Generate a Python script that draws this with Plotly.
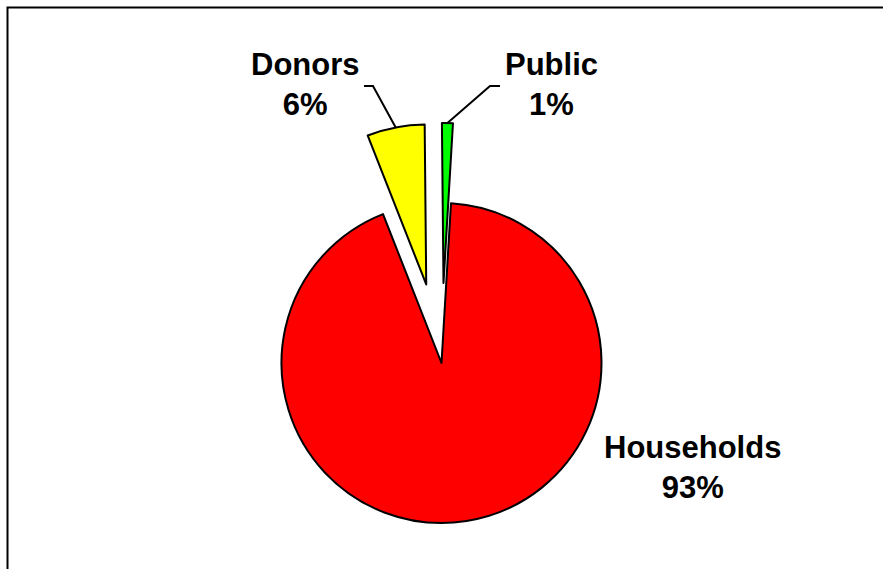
import math
import plotly.graph_objects as go

# ---- data ----
labels = ["Households", "Donors", "Public"]
values = [93.1, 5.8, 1.1]
colors = ["#FF0000", "#FFFF00", "#00FF00"]
pulls = [0.0, 0.5, 0.5]

# ---- layout constants ----
W, H = 883, 569
CX, CY, R = 441.5, 363.0, 160.0          # pie centre / radius in px
ROTATION = 3.4                             # start angle of first slice (deg, clockwise from 12 o'clock)
FONT = "Liberation Sans, Arial, sans-serif"
label_pos = {"Households": (692, 467), "Donors": (305, 84), "Public": (551, 84)}
leader_knees = {"Donors": [(364, 86), (373, 86)], "Public": [(500, 86), (490, 86)]}


def px(x):
    return x / W


def py(y):
    return 1 - y / H


total = sum(values)
mids = []
a = ROTATION
for v in values:
    span = v / total * 360
    mids.append(a + span / 2)
    a += span

fig = go.Figure()
for i, lab in enumerate(labels):
    th = math.radians(mids[i])
    dx = pulls[i] * R * math.sin(th)
    dy = -pulls[i] * R * math.cos(th)
    cx, cy = CX + dx, CY + dy
    cols = [c if j == i else "rgba(0,0,0,0)" for j, c in enumerate(colors)]
    lws = [2 if j == i else 0 for j in range(len(labels))]
    fig.add_trace(go.Pie(
        labels=labels, values=values, sort=False, direction="clockwise",
        rotation=ROTATION, textinfo="none", hoverinfo="skip",
        marker=dict(colors=cols, line=dict(color="black", width=lws)),
        domain=dict(x=[px(cx - R), px(cx + R)], y=[py(cy + R), py(cy - R)]),
        showlegend=False,
    ))

annotations = []
shapes = []
for i, lab in enumerate(labels):
    pct = f"{values[i] / total * 100:.0f}%"
    lx, ly = label_pos[lab]
    annotations.append(dict(
        x=px(lx), y=py(ly), xref="paper", yref="paper", showarrow=False,
        xanchor="center", yanchor="middle", align="center",
        text=f"<b>{lab}</b><br><b>{pct}</b>",
        font=dict(family=FONT, size=31, color="black"),
    ))
    if lab in leader_knees:
        th = math.radians(mids[i])
        ex = CX + (1 + pulls[i]) * R * math.sin(th)
        ey = CY - (1 + pulls[i]) * R * math.cos(th)
        (x0, y0), (x1, y1) = leader_knees[lab]
        path = f"M {px(x0)},{py(y0)} L {px(x1)},{py(y1)} L {px(ex)},{py(ey)}"
        shapes.append(dict(type="path", xref="paper", yref="paper", path=path,
                           line=dict(color="black", width=2)))

# outer frame
shapes.append(dict(type="rect", xref="paper", yref="paper",
                   x0=px(7.5), x1=1.05, y0=-0.05, y1=py(7.5),
                   line=dict(color="black", width=2), fillcolor="rgba(0,0,0,0)"))

fig.update_layout(
    width=W, height=H,
    margin=dict(l=0, r=0, t=0, b=0),
    paper_bgcolor="white", plot_bgcolor="white",
    annotations=annotations, shapes=shapes,
    showlegend=False,
)
fig.write_html("out.html")
